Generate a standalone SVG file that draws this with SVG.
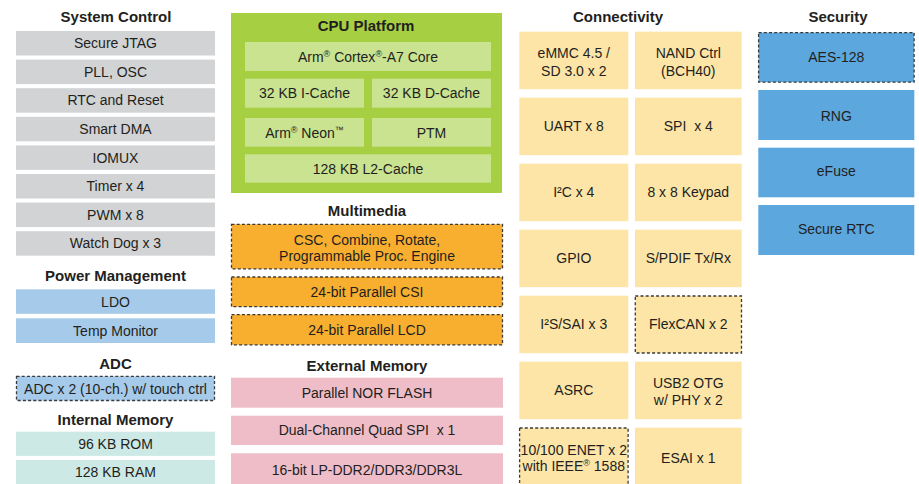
<svg xmlns="http://www.w3.org/2000/svg" width="919" height="484" viewBox="0 0 919 484">
<style>
text{font-family:"Liberation Sans",Arial,sans-serif;fill:#231f20;text-anchor:middle}
.t{font-size:15px;font-weight:bold}
.l{font-size:14px}
.sup{font-size:9px}
.gray{fill:#d1d3d4}
.lblue{fill:#a6cae9}
.teal{fill:#cde9e5}
.green{fill:#a6d041}
.lgreen{fill:#c9e391}
.orange{fill:#f8ae2f}
.pink{fill:#eebdc8}
.yellow{fill:#fde5a7}
.blue{fill:#5ba7de}
.dash{stroke:#3a3a3a;stroke-width:1.3;stroke-dasharray:3 2.2}
</style>
<rect width="919" height="484" fill="#ffffff"/>

<!-- System Control -->
<g id="system-control">
<text class="t" x="116" y="21.5">System Control</text>
<g id="secure-jtag"><rect class="gray" x="16" y="31" width="199" height="24.5"/><text class="l" x="115.5" y="48.2">Secure JTAG</text></g>
<g id="pll-osc"><rect class="gray" x="16" y="59.6" width="199" height="24.5"/><text class="l" x="115.5" y="76.8">PLL, OSC</text></g>
<g id="rtc-reset"><rect class="gray" x="16" y="88.2" width="199" height="24.5"/><text class="l" x="115.5" y="105.4">RTC and Reset</text></g>
<g id="smart-dma"><rect class="gray" x="16" y="116.8" width="199" height="24.5"/><text class="l" x="115.5" y="134">Smart DMA</text></g>
<g id="iomux"><rect class="gray" x="16" y="145.4" width="199" height="24.5"/><text class="l" x="115.5" y="162.6">IOMUX</text></g>
<g id="timer"><rect class="gray" x="16" y="174" width="199" height="24.5"/><text class="l" x="115.5" y="191.2">Timer x 4</text></g>
<g id="pwm"><rect class="gray" x="16" y="202.6" width="199" height="24.5"/><text class="l" x="115.5" y="219.8">PWM x 8</text></g>
<g id="watchdog"><rect class="gray" x="16" y="231.2" width="199" height="24.5"/><text class="l" x="115.5" y="248.4">Watch Dog x 3</text></g>
</g>

<!-- Power Management -->
<g id="power-management">
<text class="t" x="115.5" y="280.5">Power Management</text>
<g id="ldo"><rect class="lblue" x="16" y="289.3" width="199" height="24.5"/><text class="l" x="115.5" y="306.5">LDO</text></g>
<g id="temp-monitor"><rect class="lblue" x="16" y="318.3" width="199" height="24.7"/><text class="l" x="115.5" y="335.6">Temp Monitor</text></g>
</g>

<!-- ADC -->
<g id="adc">
<text class="t" x="115.5" y="368.5">ADC</text>
<g id="adc-box"><rect class="lblue dash" x="16.5" y="376.3" width="198" height="24.2"/><text class="l" x="115.5" y="393.5">ADC x 2 (10-ch.) w/ touch ctrl</text></g>
</g>

<!-- Internal Memory -->
<g id="internal-memory">
<text class="t" x="115.5" y="424.5">Internal Memory</text>
<g id="rom"><rect class="teal" x="16" y="431.7" width="199" height="24.2"/><text class="l" x="115.5" y="448.8">96 KB ROM</text></g>
<g id="ram"><rect class="teal" x="16" y="460" width="199" height="30"/><text class="l" x="115.5" y="477">128 KB RAM</text></g>
</g>

<!-- CPU Platform -->
<g id="cpu-platform">
<rect class="green" x="231" y="13" width="271" height="180"/>
<text class="t" x="366" y="31">CPU Platform</text>
<g id="cortex"><rect class="lgreen" x="245" y="42" width="246" height="29"/><text class="l" x="368" y="61.5">Arm<tspan class="sup" baseline-shift="super">®</tspan> Cortex<tspan class="sup" baseline-shift="super">®</tspan>-A7 Core</text></g>
<g id="icache"><rect class="lgreen" x="245" y="78.7" width="119" height="29"/><text class="l" x="304.5" y="98.2">32 KB I-Cache</text></g>
<g id="dcache"><rect class="lgreen" x="372" y="78.7" width="119" height="29"/><text class="l" x="431.5" y="98.2">32 KB D-Cache</text></g>
<g id="neon"><rect class="lgreen" x="245" y="118" width="119" height="28.7"/><text class="l" x="304.5" y="137.5">Arm<tspan class="sup" baseline-shift="super">®</tspan> Neon<tspan class="sup" baseline-shift="super">™</tspan></text></g>
<g id="ptm"><rect class="lgreen" x="372" y="118" width="119" height="28.7"/><text class="l" x="431.5" y="137.5">PTM</text></g>
<g id="l2cache"><rect class="lgreen" x="245" y="154.3" width="246" height="28.4"/><text class="l" x="368" y="173.5">128 KB L2-Cache</text></g>
</g>

<!-- Multimedia -->
<g id="multimedia">
<text class="t" x="367" y="215.5">Multimedia</text>
<g id="csc"><rect class="orange dash" x="231.5" y="224.3" width="271" height="44.5"/><text class="l" x="367" y="245">CSC, Combine, Rotate,</text><text class="l" x="367" y="261">Programmable Proc. Engine</text></g>
<g id="csi"><rect class="orange dash" x="231.5" y="277" width="271" height="29.7"/><text class="l" x="367" y="296.8">24-bit Parallel CSI</text></g>
<g id="lcd"><rect class="orange dash" x="231.5" y="314.6" width="271" height="30.2"/><text class="l" x="367" y="334.7">24-bit Parallel LCD</text></g>
</g>

<!-- External Memory -->
<g id="external-memory">
<text class="t" x="367" y="370.5">External Memory</text>
<g id="nor"><rect class="pink" x="231" y="377.7" width="272" height="30"/><text class="l" x="367" y="397.7">Parallel NOR FLASH</text></g>
<g id="qspi"><rect class="pink" x="231" y="415.7" width="272" height="29.3"/><text class="l" x="367" y="435.4" xml:space="preserve">Dual-Channel Quad SPI  x 1</text></g>
<g id="ddr"><rect class="pink" x="231" y="453.3" width="272" height="35"/><text class="l" x="367" y="475">16-bit LP-DDR2/DDR3/DDR3L</text></g>
</g>

<!-- Connectivity -->
<g id="connectivity">
<text class="t" x="618" y="21.5">Connectivity</text>
<g id="emmc"><rect class="yellow" x="519.3" y="31.7" width="109" height="57.5"/><text class="l" x="573.8" y="58.3">eMMC 4.5 /</text><text class="l" x="573.8" y="75.7">SD 3.0 x 2</text></g>
<g id="nand"><rect class="yellow" x="635" y="31.7" width="106.7" height="57.5"/><text class="l" x="688.3" y="58.3">NAND Ctrl</text><text class="l" x="688.3" y="75.7">(BCH40)</text></g>
<g id="uart"><rect class="yellow" x="519.3" y="97.7" width="109" height="57.5"/><text class="l" x="573.8" y="131.4">UART x 8</text></g>
<g id="spi"><rect class="yellow" x="635" y="97.7" width="106.7" height="57.5"/><text class="l" x="688.3" y="131.4" xml:space="preserve">SPI  x 4</text></g>
<g id="i2c"><rect class="yellow" x="519.3" y="163.7" width="109" height="57.5"/><text class="l" x="573.8" y="197.4">I²C x 4</text></g>
<g id="keypad"><rect class="yellow" x="635" y="163.7" width="106.7" height="57.5"/><text class="l" x="688.3" y="197.4">8 x 8 Keypad</text></g>
<g id="gpio"><rect class="yellow" x="519.3" y="229.7" width="109" height="57.5"/><text class="l" x="573.8" y="263.4">GPIO</text></g>
<g id="spdif"><rect class="yellow" x="635" y="229.7" width="106.7" height="57.5"/><text class="l" x="688.3" y="263.4">S/PDIF Tx/Rx</text></g>
<g id="i2s"><rect class="yellow" x="519.3" y="295.7" width="109" height="57.5"/><text class="l" x="573.8" y="329.4">I²S/SAI x 3</text></g>
<g id="flexcan"><rect class="yellow dash" x="635.3" y="296" width="106.2" height="57"/><text class="l" x="688.3" y="329.4">FlexCAN x 2</text></g>
<g id="asrc"><rect class="yellow" x="519.3" y="361.7" width="109" height="57.5"/><text class="l" x="573.8" y="395.4">ASRC</text></g>
<g id="usb"><rect class="yellow" x="635" y="361.7" width="106.7" height="57.5"/><text class="l" x="688.3" y="388">USB2 OTG</text><text class="l" x="688.3" y="404.5">w/ PHY x 2</text></g>
<g id="enet"><rect class="yellow dash" x="519.6" y="428" width="108.5" height="62"/><text class="l" x="573.8" y="455">10/100 ENET x 2</text><text class="l" x="573.8" y="470.8">with IEEE<tspan class="sup" baseline-shift="super">®</tspan> 1588</text></g>
<g id="esai"><rect class="yellow" x="635" y="427.7" width="106.7" height="60"/><text class="l" x="688.3" y="463">ESAI x 1</text></g>
</g>

<!-- Security -->
<g id="security">
<text class="t" x="838" y="21.5">Security</text>
<g id="aes"><rect class="blue dash" x="758.6" y="32.6" width="155.5" height="49.5"/><text class="l" x="836.3" y="61.7">AES-128</text></g>
<g id="rng"><rect class="blue" x="758.3" y="90" width="156" height="50"/><text class="l" x="836.3" y="120.7">RNG</text></g>
<g id="efuse"><rect class="blue" x="758.3" y="147.7" width="156" height="49.6"/><text class="l" x="836.3" y="176">eFuse</text></g>
<g id="secure-rtc"><rect class="blue" x="758.3" y="205" width="156" height="50"/><text class="l" x="836.3" y="234.3">Secure RTC</text></g>
</g>

<g id="connectors"/>
</svg>
